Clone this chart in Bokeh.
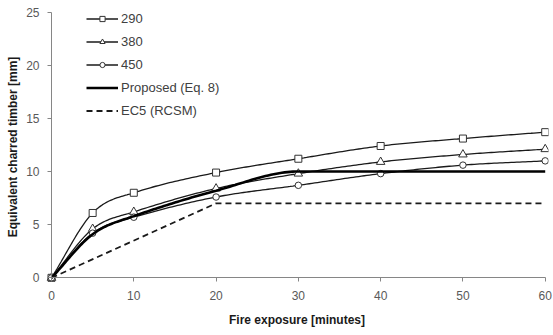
import numpy as np
from bokeh.plotting import figure
from bokeh.models import Range1d, FixedTicker, Legend, LegendItem, LinearAxis, Title
from bokeh.embed import file_html
from bokeh.resources import INLINE

# ---- data ----
minutes = [0, 5, 10, 20, 30, 40, 50, 60]
s290 = [0, 6.1, 8.0, 9.9, 11.2, 12.4, 13.1, 13.7]
s380 = [0, 4.6, 6.2, 8.4, 9.8, 10.9, 11.6, 12.1]
s450 = [0, 4.2, 5.7, 7.6, 8.7, 9.8, 10.6, 11.0]
proposed_x = [0, 5, 10, 20, 30, 40, 50, 60]
proposed_y = [0, 4.1, 5.8, 8.2, 10.0, 10.0, 10.0, 10.0]
ec5_x = [0, 20, 30, 40, 50, 60]
ec5_y = [0, 7.0, 7.0, 7.0, 7.0, 7.0]
x_ticks = [0, 10, 20, 30, 40, 50, 60]
y_ticks = [0, 5, 10, 15, 20, 25]
labels = ["290", "380", "450", "Proposed (Eq. 8)", "EC5 (RCSM)"]
x_title = "Fire exposure [minutes]"
y_title = "Equivalent charred timber [mm]"


def smooth(xs, ys, n=30):
    """Catmull-Rom style cubic Hermite (Excel-like smoothing), flat where the data is flat."""
    xs = np.asarray(xs, float)
    ys = np.asarray(ys, float)
    k = len(xs)
    sec = np.diff(ys) / np.diff(xs)
    m = np.zeros(k)
    m[0] = sec[0]
    m[-1] = sec[-1]
    for i in range(1, k - 1):
        if sec[i - 1] == 0 or sec[i] == 0:
            m[i] = 0.0
        else:
            m[i] = (ys[i + 1] - ys[i - 1]) / (xs[i + 1] - xs[i - 1])
    ox, oy = [], []
    for i in range(k - 1):
        h = xs[i + 1] - xs[i]
        t = np.linspace(0, 1, n, endpoint=(i == k - 2))
        h00 = 2 * t**3 - 3 * t**2 + 1
        h10 = t**3 - 2 * t**2 + t
        h01 = -2 * t**3 + 3 * t**2
        h11 = t**3 - t**2
        ox.extend(xs[i] + t * h)
        oy.extend(h00 * ys[i] + h10 * h * m[i] + h01 * ys[i + 1] + h11 * h * m[i + 1])
    return ox, oy


FONT = "Liberation Sans"
AXIS_GRAY = "#868686"
TICK_TEXT = "#595959"

p = figure(width=553, height=335, x_range=Range1d(-0.73, 60.4), y_range=Range1d(-0.44, 25.05),
           output_backend="svg", toolbar_location=None,
           min_border_left=44, min_border_right=5, min_border_top=11, min_border_bottom=52)
p.outline_line_color = None
p.xgrid.visible = False
p.ygrid.visible = False
p.background_fill_color = "white"
p.border_fill_color = "white"

# axis rules and ticks drawn exactly at x=0 / y=0
for ax, ticks in ((p.xaxis[0], x_ticks), (p.yaxis[0], y_ticks)):
    ax.ticker = FixedTicker(ticks=ticks)
    ax.fixed_location = 0
    ax.bounds = (ticks[0], ticks[-1])
    ax.axis_line_color = AXIS_GRAY
    ax.major_tick_line_color = AXIS_GRAY
    ax.major_tick_out = 4
    ax.major_tick_in = 0
    ax.minor_tick_line_color = None
    ax.major_label_text_color = None

# label-carrying axes in the side panels
xlab = LinearAxis(ticker=FixedTicker(ticks=x_ticks))
ylab = LinearAxis(ticker=FixedTicker(ticks=y_ticks))
for ax in (xlab, ylab):
    ax.axis_line_color = None
    ax.major_tick_line_color = None
    ax.minor_tick_line_color = None
    ax.major_tick_out = 0
    ax.major_tick_in = 0
    ax.major_label_text_font = FONT
    ax.major_label_text_font_size = "12px"
    ax.major_label_text_color = TICK_TEXT
xlab.major_label_standoff = 8
ylab.major_label_standoff = 6
p.add_layout(xlab, "below")
p.add_layout(ylab, "left")

p.add_layout(Title(text=y_title, align="center", standoff=7, offset=0,
                   text_font=FONT, text_font_size="12px", text_font_style="bold",
                   text_color="#1a1a1a"), "left")
p.add_layout(Title(text=x_title, align="center", standoff=17, offset=-11,
                   text_font=FONT, text_font_size="12px", text_font_style="bold",
                   text_color="#1a1a1a"), "below")

LINE = "#1a1a1a"
items = []
series = [(s290, "square", 7), (s380, "triangle", 8.5), (s450, "circle", 6.5)]
for (vals, marker, size), lab in zip(series, labels[:3]):
    sx, sy = smooth(minutes, vals)
    r1 = p.line(sx, sy, line_color=LINE, line_width=1.3)
    r2 = p.scatter(minutes, vals, marker=marker, size=size, fill_color="white",
                   line_color="#333333", line_width=1)
    items.append(LegendItem(label=lab, renderers=[r1, r2]))

px, py = smooth(proposed_x, proposed_y)
r = p.line(px, py, line_color="black", line_width=2.6)
items.append(LegendItem(label=labels[3], renderers=[r]))

r = p.line(ec5_x, ec5_y, line_color=LINE, line_width=1.8, line_dash="6 4")
items.append(LegendItem(label=labels[4], renderers=[r]))

legend = Legend(items=items, location=(41, 160), padding=0, margin=0, spacing=0,
                label_height=23, glyph_height=13, glyph_width=32, label_standoff=3,
                border_line_color=None, background_fill_alpha=0,
                label_text_font=FONT, label_text_font_size="13px",
                label_text_color="#404040")
p.add_layout(legend)

open("out.html", "w").write(file_html(p, INLINE))
